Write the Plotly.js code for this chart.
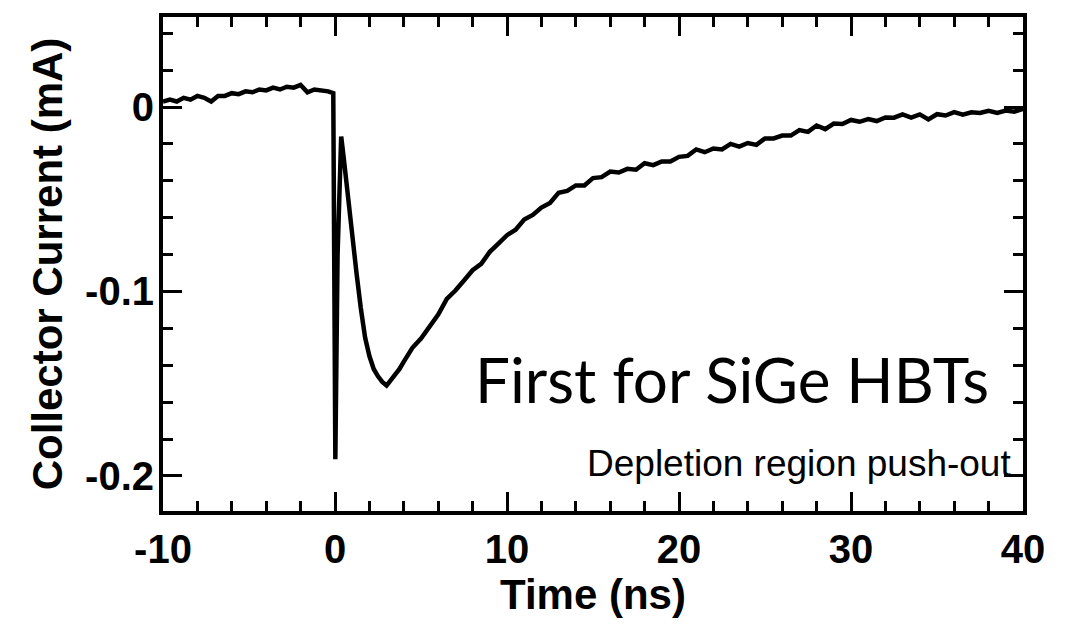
<!DOCTYPE html>
<html>
<head>
<meta charset="utf-8">
<script src="https://cdn.plot.ly/plotly-3.0.1.min.js"></script>
<style>
html,body{margin:0;padding:0;background:#fff;}
#chart{width:1073px;height:626px;}
</style>
</head>
<body>
<div id="chart"></div>
<script>
// Time (ns)
const timeNs = [
  -10.0, -9.6, -9.2, -8.8, -8.4, -8.0, -7.6, -7.2, -6.8, -6.4,
  -6.0, -5.6, -5.2, -4.8, -4.4, -4.0, -3.6, -3.2, -2.8, -2.4,
  -2.0, -1.6, -1.2, -0.8, -0.4, -0.1,
  0.02, 0.15, 0.3, 0.36, 0.5, 0.75, 1.0, 1.25, 1.5, 1.75,
  2.0, 2.25, 2.5, 2.75, 3.0, 3.25, 3.5, 3.75,
  4.0, 4.5, 5.0, 5.5, 6.0, 6.5, 7.0, 7.5, 8.0, 8.5,
  9.0, 9.5, 10.0, 10.5, 11.0, 11.5, 12.0, 12.5, 13.0, 13.5,
  14.0, 14.5, 15.0, 15.5, 16.0, 16.5, 17.0, 17.5, 18.0, 18.5,
  19.0, 19.5, 20.0, 20.5, 21.0, 21.5, 22.0, 22.5, 23.0, 23.5,
  24.0, 24.5, 25.0, 25.5, 26.0, 26.5, 27.0, 27.5, 28.0, 28.5,
  29.0, 29.5, 30.0, 30.5, 31.0, 31.5, 32.0, 32.5, 33.0, 33.5,
  34.0, 34.5, 35.0, 35.5, 36.0, 36.5, 37.0, 37.5, 38.0, 38.5,
  39.0, 39.5, 40.0
];
// Collector current (mA)
const collectorCurrent = [
  0.003, 0.004, 0.003, 0.005, 0.004, 0.006, 0.005, 0.003, 0.006, 0.006,
  0.0075, 0.007, 0.0085, 0.008, 0.0095, 0.009, 0.0105, 0.0095, 0.011, 0.0105,
  0.012, 0.008, 0.0095, 0.009, 0.0085, 0.0075,
  -0.191, -0.080, -0.020, -0.016, -0.027, -0.050, -0.071, -0.090, -0.109, -0.125,
  -0.135, -0.142, -0.146, -0.149, -0.151, -0.148, -0.145, -0.142,
  -0.138, -0.1305, -0.1255, -0.1185, -0.1125, -0.104, -0.0995, -0.094, -0.0885, -0.085,
  -0.0785, -0.074, -0.0695, -0.0665, -0.061, -0.0585, -0.0545, -0.052, -0.0465, -0.0455,
  -0.0425, -0.0425, -0.0385, -0.038, -0.035, -0.0355, -0.0335, -0.034, -0.0305, -0.0315,
  -0.0295, -0.0295, -0.027, -0.0265, -0.023, -0.0245, -0.0225, -0.023, -0.020, -0.0215,
  -0.0195, -0.0205, -0.017, -0.017, -0.0155, -0.0155, -0.0125, -0.0135, -0.010, -0.012,
  -0.009, -0.0092, -0.007, -0.008, -0.0065, -0.0076, -0.0057, -0.0058, -0.004, -0.0057,
  -0.004, -0.0067, -0.0039, -0.0046, -0.0028, -0.0041, -0.0029, -0.0032, -0.002, -0.0032,
  -0.0019, -0.0025, -0.001
];

const xTickVals = [-10, 0, 10, 20, 30, 40];
const xTickText = ["-10", "0", "10", "20", "30", "40"];
const yTickVals = [0, -0.1, -0.2];
const yTickText = ["0", "-0.1", "-0.2"];

const axisTitleText = {x: "Time (ns)", y: "Collector Current (mA)"};
const headline = "First for SiGe HBTs";
const subline = "Depletion region push-out";

const boldFont = {family: "Liberation Sans, Arial, Helvetica, sans-serif", size: 40, color: "#000", weight: "bold"};

const trace = {
  x: timeNs,
  y: collectorCurrent,
  type: "scatter",
  mode: "lines",
  line: {color: "#000", width: 4.5},
  hoverinfo: "skip"
};

const layout = {
  width: 1073,
  height: 626,
  margin: {l: 163, r: 50, t: 17, b: 115},
  paper_bgcolor: "#fff",
  plot_bgcolor: "#fff",
  showlegend: false,
  xaxis: {
    range: [-10, 40],
    tickmode: "array",
    tickvals: xTickVals,
    ticktext: xTickText,
    ticks: "inside",
    ticklen: 19,
    tickwidth: 3,
    tickcolor: "#000",
    minor: {dtick: 2, tick0: 0, ticks: "inside", ticklen: 10, tickwidth: 3, tickcolor: "#000", showgrid: false},
    showline: true,
    linewidth: 4,
    linecolor: "#000",
    mirror: "allticks",
    showgrid: false,
    zeroline: false,
    tickfont: boldFont,
    ticklabelstandoff: 0,
    title: {text: axisTitleText.x, font: {family: boldFont.family, size: 42, color: "#000", weight: "bold"}, standoff: 2}
  },
  yaxis: {
    range: [-0.219, 0.0488],
    tickmode: "array",
    tickvals: yTickVals,
    ticktext: yTickText,
    ticks: "inside",
    ticklen: 19,
    tickwidth: 3,
    tickcolor: "#000",
    minor: {dtick: 0.02, tick0: 0, ticks: "inside", ticklen: 10, tickwidth: 3, tickcolor: "#000", showgrid: false},
    showline: true,
    linewidth: 4,
    linecolor: "#000",
    mirror: "allticks",
    showgrid: false,
    zeroline: false,
    tickfont: boldFont,
    ticklabelstandoff: -3,
    title: {text: axisTitleText.y, font: {family: boldFont.family, size: 42, color: "#000", weight: "bold"}, standoff: 10}
  },
  annotations: [
    {
      xref: "paper", yref: "paper", x: 0.963, y: 0.268,
      xanchor: "right", yanchor: "middle", showarrow: false,
      text: headline,
      font: {family: "Lato, 'Open Sans', sans-serif", size: 62, color: "#000", weight: 400}
    },
    {
      xref: "paper", yref: "paper", x: 0.988, y: 0.097,
      xanchor: "right", yanchor: "middle", showarrow: false,
      text: subline,
      font: {family: "Liberation Sans, Arial, sans-serif", size: 37, color: "#000"}
    }
  ]
};

Plotly.newPlot("chart", [trace], layout, {displayModeBar: false, staticPlot: true});
</script>
</body>
</html>
